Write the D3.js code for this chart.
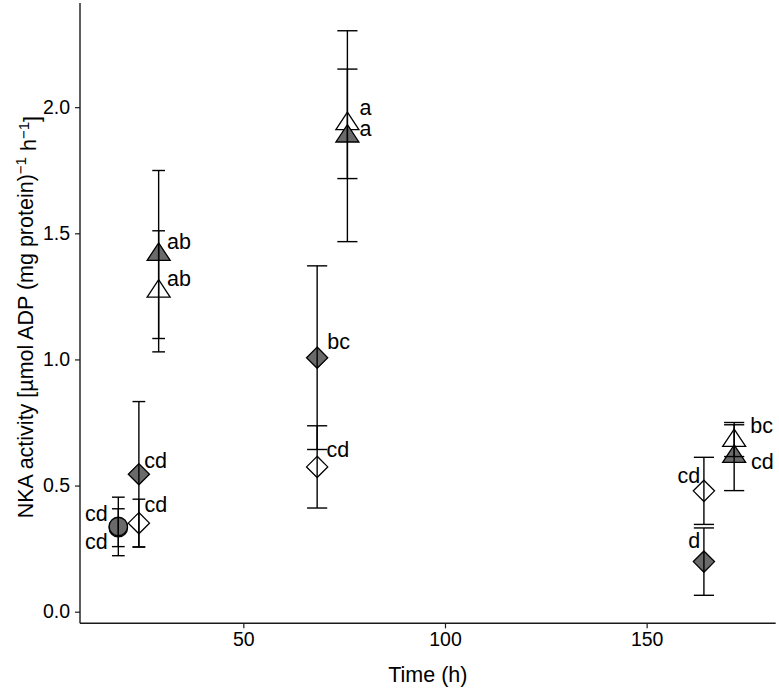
<!DOCTYPE html>
<html>
<head>
<meta charset="utf-8">
<script src="https://cdn.jsdelivr.net/npm/d3@7"></script>
<style>
  html, body { margin: 0; padding: 0; background: #ffffff; }
  svg { display: block; }
  text { font-family: "Liberation Sans", Arial, Helvetica, sans-serif; fill: #000; }
</style>
</head>
<body>
<svg id="chart" width="779" height="691"></svg>
<script>
// ---------------- data ----------------
const xTicks = [50, 100, 150];
const yTicks = [0, 0.5, 1.0, 1.5, 2.0];
const xLabel = "Time (h)";

// one entry per plotted mean (drawn in this order)
const shapes  = ["circle","circle","diamond","diamond","triangle","triangle","diamond","diamond","triangle","triangle","diamond","diamond","triangle","triangle"];
const fills   = ["open","filled","open","filled","open","filled","open","filled","open","filled","open","filled","open","filled"];
const times   = [19.0, 19.0, 24.1, 24.1, 29.0, 29.0, 68.3, 68.3, 75.8, 75.8, 164.2, 164.2, 171.7, 171.7];
const means   = [0.333, 0.338, 0.351, 0.545, 1.270, 1.416, 0.574, 1.007, 1.934, 1.885, 0.479, 0.1985, 0.678, 0.615];
const errors  = [0.075, 0.116, 0.095, 0.288, 0.240, 0.333, 0.163, 0.364, 0.217, 0.418, 0.133, 0.1335, 0.063, 0.135];

// significance letters (text placed at data coordinates)
const letters     = ["cd","cd","cd","cd","ab","ab","cd","bc","a","a","cd","d","bc","cd"];
const letterX     = [16.4, 16.4, 25.5, 25.4, 31.1, 31.1, 70.6, 70.8, 78.8, 78.8, 163.3, 163.3, 175.7, 175.9];
const letterY     = [0.278, 0.390, 0.427, 0.601, 1.322, 1.467, 0.645, 1.071, 2.000, 1.917, 0.542, 0.284, 0.740, 0.595];
const letterAlign = ["end","end","start","start","start","start","start","start","start","start","end","end","start","start"];

// ---------------- layout ----------------
const svg = d3.select("#chart");
const plot = { left: 80, right: 775.7, top: 3, bottom: 623.3 };

const x = d3.scaleLinear().domain([9.5, 182]).range([plot.left, plot.right]);
const y = d3.scaleLinear().domain([-0.046, 2.413]).range([plot.bottom, plot.top]);

const FILL_GREY = "#6a6a6a";
const INK = "#000";

// ---------------- axes ----------------
const xAxis = d3.axisBottom(x).tickValues(xTicks).tickFormat(d3.format("d")).tickSize(5).tickSizeOuter(0).tickPadding(4);
const yAxis = d3.axisLeft(y).tickValues(yTicks).tickFormat(d3.format(".1f")).tickSize(5).tickSizeOuter(0).tickPadding(5);

const gx = svg.append("g").attr("transform", `translate(0,${plot.bottom})`).call(xAxis);
const gy = svg.append("g").attr("transform", `translate(${plot.left},0)`).call(yAxis);

[gx, gy].forEach(g => {
  g.select(".domain").attr("stroke", "#1a1a1a").attr("stroke-width", 1.4);
  g.selectAll(".tick line").attr("stroke", "#1a1a1a").attr("stroke-width", 1.2);
  g.selectAll(".tick text").attr("font-size", 19.5).attr("fill", "#1a1a1a")
    .style("font-family", '"Liberation Sans", Arial, sans-serif');
});
// full-length axis lines from corner
gx.select(".domain").attr("d", `M${plot.left},0H${plot.right}`);
gy.select(".domain").attr("d", `M0,${plot.top}V${plot.bottom}`);

// axis titles
svg.append("text")
  .attr("x", (plot.left + plot.right) / 2)
  .attr("y", 682)
  .attr("text-anchor", "middle")
  .attr("font-size", 21.5)
  .text(xLabel);

const yt = svg.append("text")
  .attr("transform", `translate(33,${(plot.top + plot.bottom) / 2 + 4}) rotate(-90)`)
  .attr("text-anchor", "middle")
  .attr("font-size", 21.5);
yt.append("tspan").text("NKA activity [µmol ADP (mg protein)");
yt.append("tspan").attr("dy", "-0.45em").attr("font-size", "0.7em").text("−1");
yt.append("tspan").attr("dy", "0.45em").text(" h");
yt.append("tspan").attr("dy", "-0.45em").attr("font-size", "0.7em").text("−1");
yt.append("tspan").attr("dy", "0.45em").text("]");

// ---------------- marks ----------------
const rows = d3.range(means.length).map(i => ({
  shape: shapes[i], fill: fills[i], t: times[i], m: means[i], e: errors[i],
  lab: letters[i], lx: letterX[i], ly: letterY[i], la: letterAlign[i]
}));

// dodge width (hours) sets the error-bar cap width: 3 groups at 24 h, 2 elsewhere
const capHalf = d => (d.t < 40 ? 1.58 : 2.5);

function shapePath(shape) {
  if (shape === "circle") {
    const r = 9.2;
    return `M${r},0A${r},${r} 0 1,1 ${-r},0A${r},${r} 0 1,1 ${r},0Z`;
  }
  if (shape === "diamond") {
    const r = 10.6;
    return `M0,${-r}L${r},0L0,${r}L${-r},0Z`;
  }
  // triangle with centroid at the data point
  const w = 11.5, h = 17.4;
  return `M0,${-h * 2 / 3}L${w},${h / 3}L${-w},${h / 3}Z`;
}

const gPts = svg.append("g");
const gErr = svg.append("g");

rows.forEach(d => {
  gPts.append("path")
    .attr("d", shapePath(d.shape))
    .attr("transform", `translate(${x(d.t)},${y(d.m)})`)
    .attr("fill", d.fill === "filled" ? FILL_GREY : "#ffffff")
    .attr("stroke", INK)
    .attr("stroke-width", 1.3)
    .attr("stroke-linejoin", "miter");

  const cx = x(d.t);
  const x0 = x(d.t - capHalf(d)), x1 = x(d.t + capHalf(d));
  const yTop = y(d.m + d.e), yBot = y(d.m - d.e);
  gErr.append("line").attr("x1", cx).attr("x2", cx).attr("y1", yTop).attr("y2", yBot)
    .attr("stroke", INK).attr("stroke-width", 1.4);
  gErr.append("line").attr("x1", x0).attr("x2", x1).attr("y1", yTop).attr("y2", yTop)
    .attr("stroke", INK).attr("stroke-width", 1.4);
  gErr.append("line").attr("x1", x0).attr("x2", x1).attr("y1", yBot).attr("y2", yBot)
    .attr("stroke", INK).attr("stroke-width", 1.4);
});

svg.append("g").selectAll("text").data(rows).join("text")
  .attr("x", d => x(d.lx))
  .attr("y", d => y(d.ly))
  .attr("dy", "0.36em")
  .attr("text-anchor", d => d.la)
  .attr("font-size", 21.5)
  .text(d => d.lab);
</script>
</body>
</html>
